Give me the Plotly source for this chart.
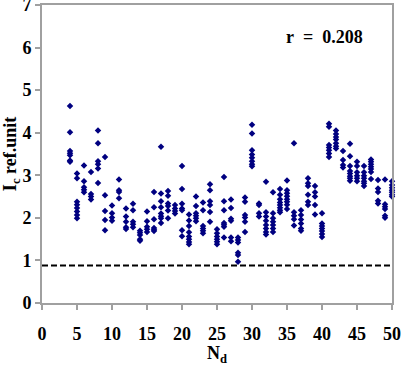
import plotly.graph_objects as go

nd_values = list(range(4, 51))

ic_by_nd = [
    [4.63, 4.01, 3.57, 3.52, 3.47, 3.35, 3.32],            # 4
    [3.04, 2.93, 2.38, 2.31, 2.23, 2.15, 2.07, 1.99],      # 5
    [3.23, 2.86, 2.72, 2.66, 2.60],                        # 6
    [3.08, 2.56, 2.50, 2.43],                              # 7
    [4.05, 3.75, 3.33, 3.26, 3.16, 2.82],                  # 8
    [3.43, 2.53, 2.16, 1.95, 1.71],                        # 9
    [2.29, 2.11, 2.01, 1.93],                              # 10
    [2.90, 2.65, 2.61, 2.46],                              # 11
    [2.22, 2.03, 1.91, 1.78, 1.74],                        # 12
    [2.33, 2.18, 1.91, 1.85, 1.78],                        # 13
    [1.70, 1.65, 1.60, 1.50, 1.46],                        # 14
    [2.15, 1.92, 1.79, 1.73, 1.67],                        # 15
    [2.61, 2.25, 1.97, 1.76, 1.72, 1.69],                  # 16
    [3.67, 2.57, 2.39, 2.25, 2.10, 2.04, 1.99, 1.88],      # 17
    [2.63, 2.52, 2.34, 2.28, 2.17, 1.99],                  # 18
    [2.30, 2.22, 2.16, 2.10],                              # 19
    [3.22, 2.68, 2.33, 2.22, 2.18, 1.71, 1.57],            # 20
    [2.08, 1.94, 1.81, 1.66, 1.56, 1.50, 1.43, 1.38],      # 21
    [2.50, 2.28, 2.11, 2.05, 1.99, 1.92],                  # 22
    [2.36, 2.18, 1.81, 1.75, 1.70, 1.64],                  # 23
    [2.79, 2.65, 2.39, 2.30, 2.14, 1.91],                  # 24
    [1.73, 1.64, 1.56, 1.50, 1.44, 1.38],                  # 25
    [2.96, 2.39, 2.18, 1.88, 1.84, 1.79, 1.54],            # 26
    [2.43, 2.23, 1.98, 1.93, 1.54, 1.45],                  # 27
    [1.54, 1.48, 1.42, 1.18, 1.13, 0.97],                  # 28
    [2.48, 2.38, 2.07, 2.01, 1.91, 1.67],                  # 29
    [4.19, 3.98, 3.59, 3.49, 3.41, 3.33, 3.26, 3.21],      # 30
    [2.34, 2.30, 2.11, 2.03],                              # 31
    [2.85, 2.13, 2.03, 1.93, 1.83, 1.75, 1.67, 1.61],      # 32
    [2.60, 2.11, 1.99, 1.91, 1.83, 1.75, 1.67],            # 33
    [2.68, 2.54, 2.44, 2.36, 2.30, 2.24, 2.18, 2.13],      # 34
    [2.88, 2.65, 2.58, 2.51, 2.44, 2.38, 2.31, 2.21],      # 35
    [3.75, 2.13, 2.05, 1.97, 1.82],                        # 36
    [2.18, 2.07, 1.96, 1.87, 1.75, 1.70],                  # 37
    [2.93, 2.81, 2.75, 2.54, 2.38, 2.30],                  # 38
    [2.75, 2.60, 2.50, 2.30, 2.08],                        # 39
    [2.11, 1.87, 1.81, 1.75, 1.69, 1.62, 1.55],            # 40
    [4.21, 4.14, 3.71, 3.65, 3.59, 3.51, 3.43],            # 41
    [4.05, 3.97, 3.90, 3.84, 3.75, 3.68, 3.63],            # 42
    [3.57, 3.36, 3.24, 3.18],                              # 43
    [3.74, 3.45, 3.22, 3.10, 3.04, 2.98, 2.93, 2.87],      # 44
    [3.32, 3.22, 3.07, 2.99, 2.93, 2.86],                  # 45
    [3.22, 3.07, 2.99, 2.93, 2.86, 2.81, 2.75],            # 46
    [3.37, 3.32, 3.26, 3.20, 3.15, 3.08, 2.91],            # 47
    [2.89, 2.69, 2.61, 2.40, 2.34],                        # 48
    [2.90, 2.32, 2.26, 2.21, 2.05, 2.00],                  # 49
    [2.86, 2.77, 2.71, 2.65, 2.60, 2.54, 2.50],            # 50
]

threshold = 0.88
r_label = "r\u00a0\u00a0=\u00a0\u00a00.208"
x_ticks = [0, 5, 10, 15, 20, 25, 30, 35, 40, 45, 50]
y_ticks = [0, 1, 2, 3, 4, 5, 6, 7]

xs, ys = [], []
for n, vals in zip(nd_values, ic_by_nd):
    for v in vals:
        xs.append(n)
        ys.append(v)

font_family = "Liberation Serif"
axis_color = "#a0a0a0"

fig = go.Figure()
fig.add_trace(go.Scatter(
    x=xs, y=ys, mode="markers",
    marker=dict(symbol="diamond", size=5, color="#000080", line=dict(width=0)),
    showlegend=False, hoverinfo="x+y", cliponaxis=False,
))

fig.add_hline(y=threshold, line=dict(color="black", width=2, dash="6px,3px"))

fig.add_annotation(
    x=40.4, y=6.24, xref="x", yref="y", text=r_label, showarrow=False,
    font=dict(family=font_family, size=18, color="black", weight="bold"),
)

axis_common = dict(
    showline=True, linecolor=axis_color, linewidth=2, mirror=True,
    ticks="outside", ticklen=5, tickwidth=1.5, tickcolor=axis_color,
    showgrid=False, zeroline=False, automargin=False,
    ticklabeloverflow="allow",
    tickfont=dict(family=font_family, size=18, color="black", weight="bold"),
)

fig.update_xaxes(
    range=[0, 50], tickvals=x_ticks, ticktext=[str(t) for t in x_ticks],
    ticklabelstandoff=8,
    title=dict(text="N<sub>d</sub>", standoff=2,
               font=dict(family=font_family, size=18, color="black", weight="bold")),
    **axis_common,
)
fig.update_yaxes(
    range=[0, 7], tickvals=y_ticks, ticktext=[str(t) for t in y_ticks],
    title=dict(text="I<sub>c</sub> ref.unit", standoff=2,
               font=dict(family=font_family, size=18, color="black", weight="bold")),
    **axis_common,
)

fig.update_layout(
    width=401, height=366,
    margin=dict(l=42, r=9, t=5, b=63, autoexpand=False),
    plot_bgcolor="white", paper_bgcolor="white",
    font=dict(family=font_family),
)

fig.write_html(
    "out.html",
    config={"displayModeBar": False},
    post_script="document.body.style.margin='0';document.body.style.overflow='hidden';",
)
